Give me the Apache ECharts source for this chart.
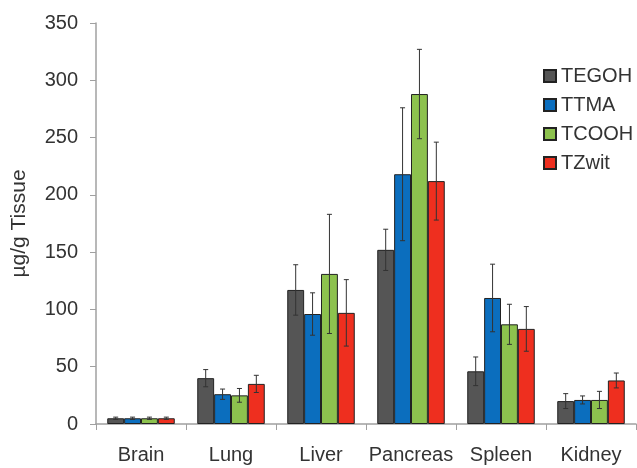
<!DOCTYPE html>
<html>
<head>
<meta charset="utf-8">
<script src="https://cdn.jsdelivr.net/npm/echarts@6/dist/echarts.min.js"></script>
<style>
html,body{margin:0;padding:0;background:#fff;}
#c{width:637px;height:468px;}
</style>
</head>
<body>
<div id="c"></div>
<script>
var categories = ['Brain', 'Lung', 'Liver', 'Pancreas', 'Spleen', 'Kidney'];
var seriesNames = ['TEGOH', 'TTMA', 'TCOOH', 'TZwit'];
var colors = ['#555555', '#0b6ebe', '#8dc24e', '#ee2f1f'];
var TEGOH = [5, 40, 117, 152, 46, 20];
var TTMA = [5, 26, 96, 218, 110, 21];
var TCOOH = [5, 25, 131, 288, 87, 21];
var TZwit = [5, 35, 97, 212, 83, 38];
var TEGOH_err = [1, 7.5, 22, 18, 12.5, 6.5];
var TTMA_err = [1, 4.5, 18.5, 58, 29.5, 3.5];
var TCOOH_err = [1, 6, 52, 39, 17.5, 7.5];
var TZwit_err = [1, 7.5, 29, 34, 19.5, 6.5];
var yTicks = [0, 50, 100, 150, 200, 250, 300, 350];

var values = [TEGOH, TTMA, TCOOH, TZwit];
var errs = [TEGOH_err, TTMA_err, TCOOH_err, TZwit_err];

var FONT = 'Liberation Sans, Arial, sans-serif';
var nS = seriesNames.length;

var errData = [];
for (var s = 0; s < nS; s++) {
  for (var i = 0; i < categories.length; i++) {
    errData.push([i, s, values[s][i], errs[s][i]]);
  }
}

var series = seriesNames.map(function (name, s) {
  return {
    name: name,
    type: 'bar',
    data: values[s],
    barGap: '0%',
    barCategoryGap: '25%',
    itemStyle: { color: colors[s], borderColor: '#222', borderWidth: 1 }
  };
});

series.push({
  type: 'custom',
  name: 'err',
  data: errData,
  z: 10,
  silent: true,
  encode: { x: 0, y: 2 },
  renderItem: function (params, api) {
    var ci = api.value(0), si = api.value(1), v = api.value(2), e = api.value(3);
    var band = api.size([1, 0])[0];
    var bw = band * 0.75 / nS;
    var c = api.coord([ci, v]);
    var x = c[0] - band * 0.75 / 2 + bw * (si + 0.5);
    var top = api.coord([ci, v + e])[1];
    var bot = api.coord([ci, v - e])[1];
    var cap = 2.5;
    var st = { stroke: '#333', lineWidth: 1 };
    return {
      type: 'group',
      children: [
        { type: 'line', shape: { x1: x, y1: top, x2: x, y2: bot }, style: st },
        { type: 'line', shape: { x1: x - cap, y1: top, x2: x + cap, y2: top }, style: st },
        { type: 'line', shape: { x1: x - cap, y1: bot, x2: x + cap, y2: bot }, style: st }
      ]
    };
  }
});

var chart = echarts.init(document.getElementById('c'));
chart.setOption({
  animation: false,
  backgroundColor: '#fff',
  textStyle: { fontFamily: FONT },
  grid: { left: 96, right: 1, top: 23, bottom: 44, containLabel: false },
  legend: {
    data: seriesNames,
    orient: 'vertical',
    left: 543,
    top: 66,
    padding: 0,
    itemWidth: 12,
    itemHeight: 12,
    itemGap: 9,
    textStyle: { fontSize: 20, color: '#333', fontFamily: FONT },
    icon: 'rect'
  },
  xAxis: {
    type: 'category',
    data: categories,
    axisLine: { lineStyle: { color: '#a0a0a0', width: 1.5 } },
    axisTick: { show: true, length: 6, lineStyle: { color: '#a0a0a0' } },
    axisLabel: { interval: 0, fontSize: 20, color: '#333', margin: 21, fontFamily: FONT }
  },
  yAxis: {
    type: 'value',
    min: yTicks[0],
    max: yTicks[yTicks.length - 1],
    interval: 50,
    name: 'µg/g Tissue',
    nameLocation: 'middle',
    nameGap: 66,
    nameTextStyle: { fontSize: 21, color: '#333', fontFamily: FONT },
    axisLine: { show: true, lineStyle: { color: '#a0a0a0', width: 1.5 } },
    axisTick: { show: true, length: 6, lineStyle: { color: '#a0a0a0' } },
    axisLabel: { fontSize: 20, color: '#333', margin: 18, fontFamily: FONT },
    splitLine: { show: false }
  },
  series: series
});
</script>
</body>
</html>
